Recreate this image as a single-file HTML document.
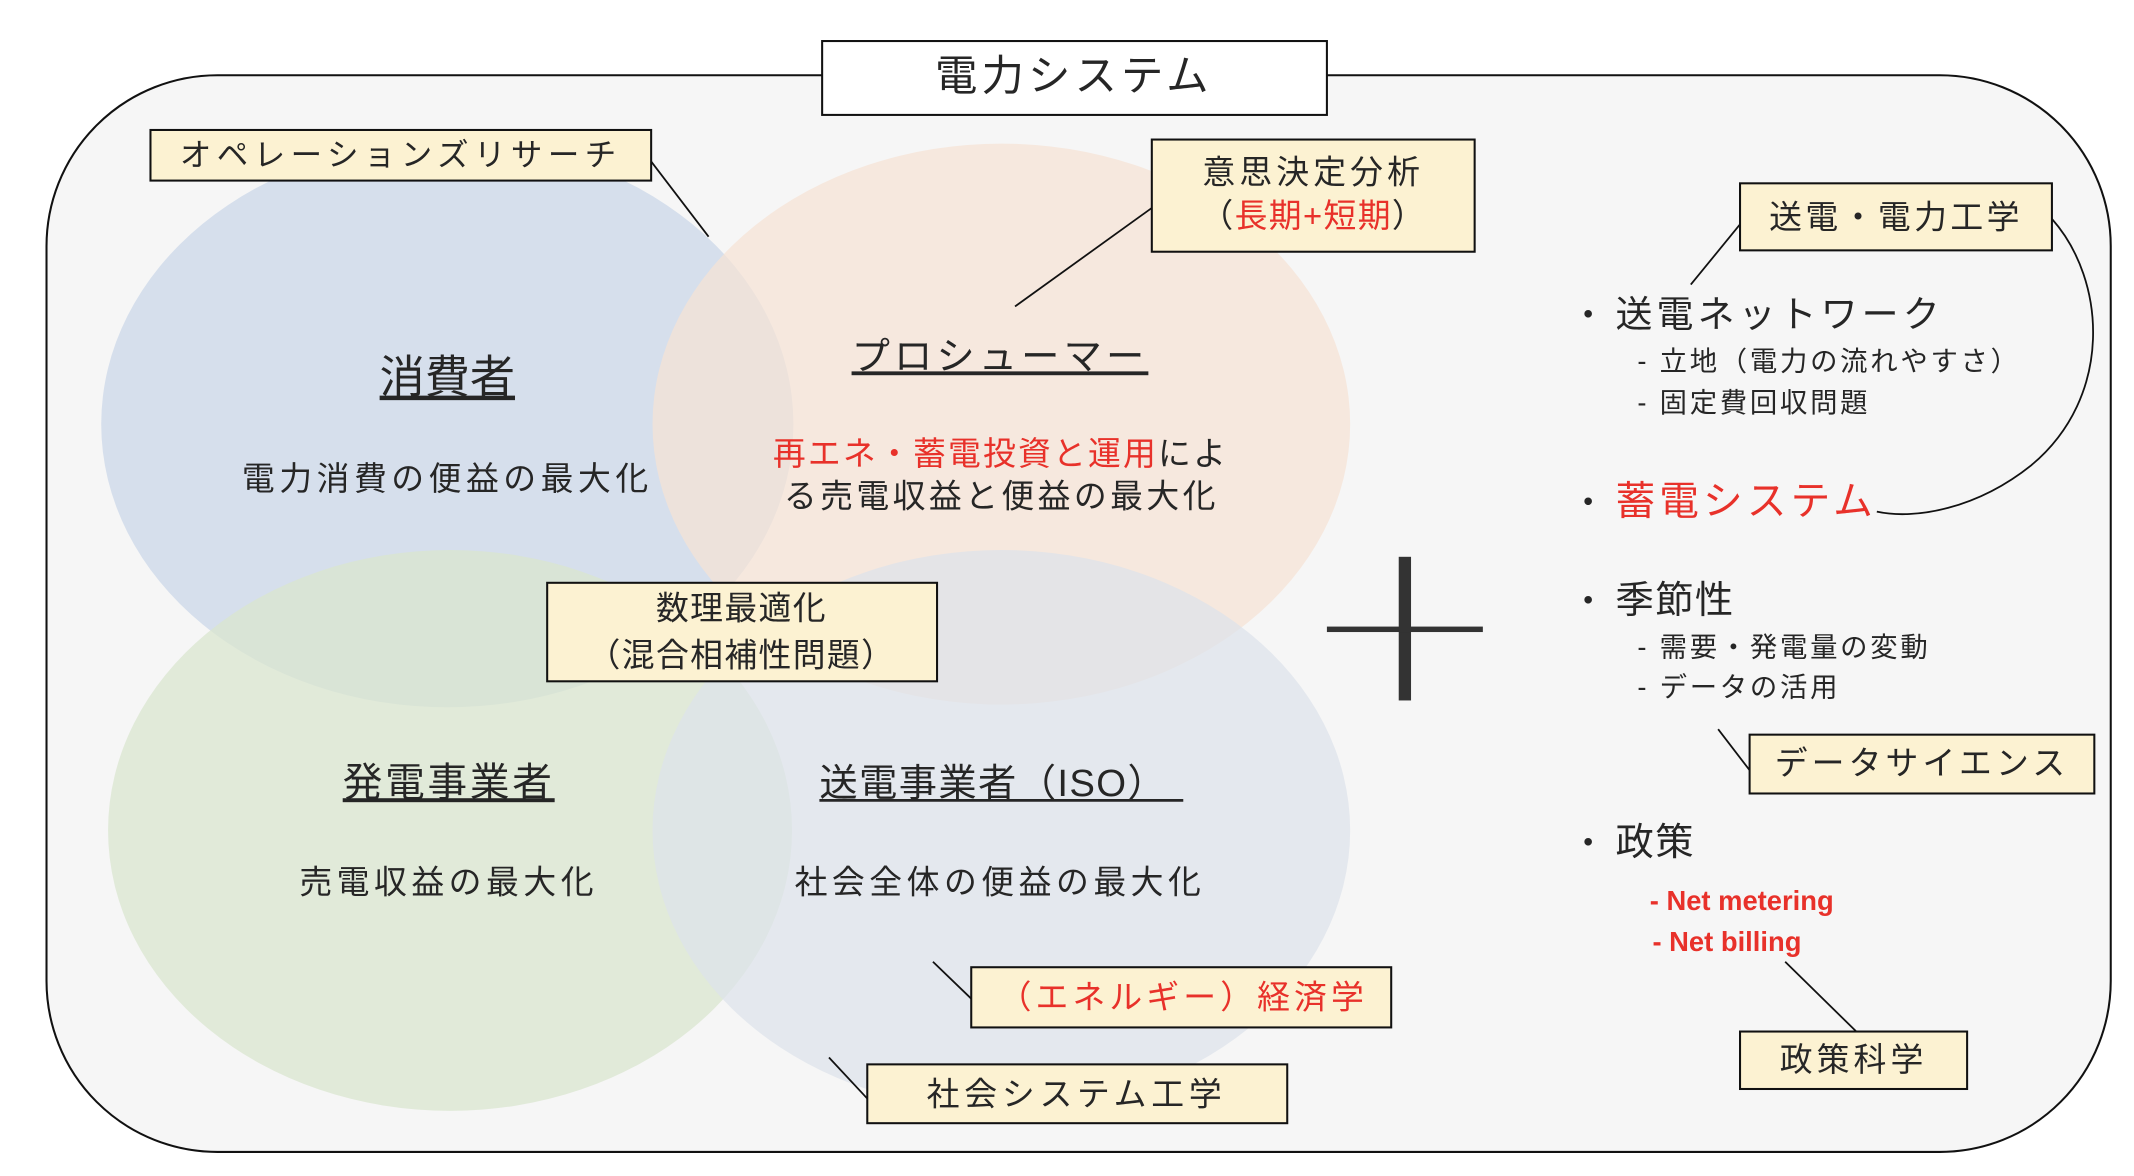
<!DOCTYPE html>
<html><head><meta charset="utf-8"><style>
html,body{margin:0;padding:0;background:#fff;width:2134px;height:1176px;overflow:hidden}
svg{display:block}
text{font-family:"Liberation Sans","Noto Sans CJK JP",sans-serif;fill:#262626}
.lb{fill:#fcf2d2;stroke:#111;stroke-width:1.5}
.ln{stroke:#111;stroke-width:1.3;fill:none}
.r{fill:#e8312a}
</style></head><body>
<svg width="2134" height="1176" viewBox="0 0 1560 859.6" preserveAspectRatio="none">
<rect x="34" y="55" width="1509" height="787" rx="125" ry="125" fill="#f6f6f6" stroke="#111" stroke-width="1.5"/>
<ellipse cx="327" cy="310" rx="253" ry="207" fill="#d0daea" fill-opacity="0.85"/>
<ellipse cx="732" cy="310" rx="255" ry="205" fill="#f6e2d4" fill-opacity="0.7"/>
<ellipse cx="329" cy="607" rx="250" ry="205" fill="#d9e5cf" fill-opacity="0.75"/>
<ellipse cx="732" cy="607" rx="255" ry="205" fill="#dde2eb" fill-opacity="0.7"/>

<rect x="601" y="30" width="369" height="54" fill="#fff" stroke="#111" stroke-width="1.5"/>
<text x="785" y="66" font-size="31" text-anchor="middle" letter-spacing="3">電力システム</text>

<text x="327" y="287" font-size="33" text-anchor="middle" text-decoration="underline">消費者</text>
<text x="327" y="358" font-size="24" text-anchor="middle" letter-spacing="3.3">電力消費の便益の最大化</text>
<text x="731" y="270" font-size="28" text-anchor="middle" text-decoration="underline" letter-spacing="3">プロシューマー</text>
<text x="565" y="340" font-size="24" letter-spacing="1.6"><tspan class="r">再エネ・蓄電投資と運用</tspan>によ</text>
<text x="732" y="371" font-size="24" text-anchor="middle" letter-spacing="2.5">る売電収益と便益の最大化</text>
<text x="328" y="582" font-size="29" text-anchor="middle" text-decoration="underline" letter-spacing="2">発電事業者</text>
<text x="328" y="653" font-size="24" text-anchor="middle" letter-spacing="3.3">売電収益の最大化</text>
<text x="599" y="582" font-size="28" letter-spacing="1">送電事業者（ISO）</text>
<line x1="599" y1="585" x2="865" y2="585" stroke="#262626" stroke-width="2"/>
<text x="731" y="653" font-size="24" text-anchor="middle" letter-spacing="3.3">社会全体の便益の最大化</text>

<line class="ln" x1="476" y1="118" x2="518" y2="173"/>
<rect class="lb" x="110" y="95" width="366" height="37"/>
<text x="293" y="121" font-size="23" text-anchor="middle" letter-spacing="4">オペレーションズリサーチ</text>

<line class="ln" x1="842" y1="152" x2="742" y2="224"/>
<rect class="lb" x="842" y="102" width="236" height="82"/>
<text x="960" y="134" font-size="24" text-anchor="middle" letter-spacing="3">意思決定分析</text>
<text x="960" y="166" font-size="24" text-anchor="middle" letter-spacing="1">（<tspan class="r">長期+短期</tspan>）</text>

<rect class="lb" x="400" y="426" width="285" height="72"/>
<text x="542" y="453" font-size="24" text-anchor="middle" letter-spacing="1">数理最適化</text>
<text x="542" y="487" font-size="24" text-anchor="middle" letter-spacing="1">（混合相補性問題）</text>

<line class="ln" x1="682" y1="703" x2="710" y2="730"/>
<rect class="lb" x="710" y="707" width="307" height="44"/>
<text x="865" y="737" font-size="24" text-anchor="middle" class="r" letter-spacing="3">（エネルギー）経済学</text>

<line class="ln" x1="606" y1="773" x2="634" y2="803"/>
<rect class="lb" x="634" y="778" width="307" height="43"/>
<text x="787" y="808" font-size="24" text-anchor="middle" letter-spacing="3.5">社会システム工学</text>

<rect x="1022.5" y="407" width="9" height="105" fill="#333"/>
<rect x="970" y="458" width="114" height="4" fill="#333"/>

<line class="ln" x1="1272" y1="164" x2="1236" y2="208"/>
<path class="ln" d="M1500,160 C1540,205 1545,290 1485,340 C1445,372 1400,380 1372,374"/>
<rect class="lb" x="1272" y="134" width="228" height="49"/>
<text x="1386" y="167" font-size="24" text-anchor="middle" letter-spacing="2.5">送電・電力工学</text>

<text x="1148" y="239" font-size="26">・</text>
<text x="1181" y="239" font-size="27" letter-spacing="3">送電ネットワーク</text>
<text x="1197" y="271" font-size="20" letter-spacing="2">- 立地（電力の流れやすさ）</text>
<text x="1197" y="301" font-size="20" letter-spacing="2">- 固定費回収問題</text>
<text x="1148" y="376" font-size="26">・</text>
<text x="1181" y="376" font-size="29" letter-spacing="3" class="r">蓄電システム</text>
<text x="1148" y="448" font-size="26">・</text>
<text x="1181" y="448" font-size="28" letter-spacing="1">季節性</text>
<text x="1197" y="480" font-size="20" letter-spacing="2">- 需要・発電量の変動</text>
<text x="1197" y="509" font-size="20" letter-spacing="2">- データの活用</text>

<line class="ln" x1="1256" y1="533" x2="1279" y2="563"/>
<rect class="lb" x="1279" y="537" width="252" height="43"/>
<text x="1405" y="566" font-size="24" text-anchor="middle" letter-spacing="3">データサイエンス</text>

<text x="1148" y="625" font-size="26">・</text>
<text x="1181" y="625" font-size="28" letter-spacing="1">政策</text>
<text x="1206" y="665" font-size="20" font-weight="bold" class="r">- Net metering</text>
<text x="1208" y="695" font-size="20" font-weight="bold" class="r">- Net billing</text>

<line class="ln" x1="1305" y1="703" x2="1357" y2="754"/>
<rect class="lb" x="1272" y="754" width="166" height="42"/>
<text x="1355" y="783" font-size="24" text-anchor="middle" letter-spacing="3">政策科学</text>
</svg>
</body></html>
